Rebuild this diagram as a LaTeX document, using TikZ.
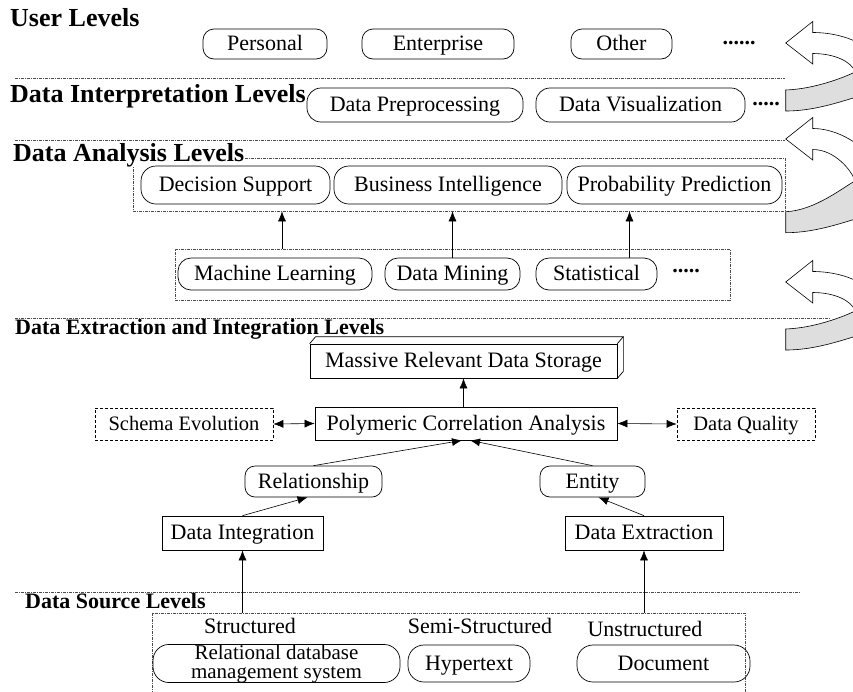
\documentclass[tikz,border=0pt]{standalone}
\usepackage{fontspec}
\setmainfont{Liberation Serif}
\usetikzlibrary{arrows.meta,calc}
\newcommand{\myUturn}[3]{% #1 tip y, #2 turn y, #3 gray top y
  \path[uturnlow] (785.7,#3) .. controls (815,#3-1) and (845,#2+5) .. (855,#2) -- (880,#2)
     -- (880,#3) .. controls (850,#3+8) and (820,#3+21) .. (785.7,#3+21) -- cycle;
  \path[uturnup] (785.7,#1) -- (812.7,#1-21.5) -- (812.7,#1-10.5)
     .. controls (845,#1-10.5) and (880,#2-25) .. (880,#2) -- (855,#2)
     .. controls (852,#2-10) and (835,#1+10.5) .. (812.7,#1+10.5) -- (812.7,#1+21) -- cycle;
}
\begin{document}
\begin{tikzpicture}[x=1pt,y=-1pt,
  txt/.style={font=\fontsize{22}{22}\selectfont, text height=16pt, text depth=3pt},
  rbox/.style={draw, rounded corners=11pt, inner sep=0pt, txt, line width=0.7pt},
  sbox/.style={draw, inner sep=0pt, txt, line width=0.7pt},
  dbox/.style={draw, densely dashed, inner sep=0pt, font=\fontsize{20.5}{22}\selectfont, text height=15pt, text depth=3pt, line width=0.6pt},
  group/.style={draw=black!70, dash pattern=on 3pt off 1pt on 1pt off 1pt, line width=0.6pt, inner sep=0pt},
  sepline/.style={draw=black!70, dash pattern=on 3pt off 1pt on 1pt off 1pt, line width=0.6pt},
  head/.style={font=\bfseries\fontsize{26}{27}\selectfont, anchor=base west, inner sep=0pt},
  subhead/.style={font=\bfseries\fontsize{22}{24}\selectfont, anchor=base west, inner sep=0pt},
  dots/.style={font=\bfseries\fontsize{22}{24}\selectfont, inner sep=0pt},
  plain/.style={inner sep=0pt, txt},
  arr/.style={-{Latex[length=10pt,width=8pt]}, line width=0.6pt},
  darr/.style={{Latex[length=10pt,width=8pt]}-{Latex[length=10pt,width=8pt]}, line width=0.6pt},
  uturnup/.style={draw, fill=white, line width=0.6pt},
  uturnlow/.style={draw, fill=black!13, line width=0.6pt},
]
\useasboundingbox (0,0) rectangle (853,691);
\fill[white] (0,0) rectangle (853,691);
\clip (0,0) rectangle (853,691);

% separator lines
\draw[sepline] (15,78) -- (785,78);
\draw[sepline] (15,140) -- (785,140);
\draw[sepline] (15,318) -- (830,318);
\draw[sepline] (15,592) -- (800,592);

% User levels
\node[head] (hUser) at (10,26) {User Levels};
\node[rbox, minimum width=124pt, minimum height=30pt] (personal) at (265,44) {Personal};
\node[rbox, minimum width=152pt, minimum height=30pt] (enterprise) at (438,44) {Enterprise};
\node[rbox, minimum width=101pt, minimum height=30pt] (other) at (621.5,44) {Other};
\node[dots] (dotsA) at (739,43) {......};

% Data interpretation
\node[head] (hInterp) at (10,102) {Data Interpretation Levels};
\node[rbox, rounded corners=14pt, minimum width=216pt, minimum height=34pt] (dpre) at (415,105) {Data Preprocessing};
\node[rbox, rounded corners=14pt, minimum width=209pt, minimum height=34pt] (dvis) at (640.5,105) {Data Visualization};
\node[dots] (dotsB) at (766,104) {.....};

% Data analysis
\node[group, minimum width=652pt, minimum height=53pt] (upbox) at (459,184.5) {};
\node[head, fill=white, inner xsep=1pt] (hAnal) at (12,161) {Data Analysis Levels};
\node[rbox, rounded corners=15pt, minimum width=189pt, minimum height=38pt] (dsup) at (235.5,185) {Decision Support};
\node[rbox, rounded corners=15pt, minimum width=228pt, minimum height=38pt] (bint) at (448,185) {Business Intelligence};
\node[rbox, rounded corners=15pt, minimum width=215pt, minimum height=38pt] (ppred) at (674.5,185) {Probability Prediction};

\node[group, minimum width=555pt, minimum height=51pt] (lowbox) at (452.5,274.5) {};
\node[rbox, rounded corners=13pt, minimum width=194pt, minimum height=32pt] (mlearn) at (275,274) {Machine Learning};
\node[rbox, rounded corners=13pt, minimum width=135pt, minimum height=32pt] (dmin) at (452.5,274) {Data Mining};
\node[rbox, rounded corners=13pt, minimum width=121pt, minimum height=32pt] (stat) at (596.5,274) {Statistical};
\node[dots] (dotsC) at (686,271) {.....};

\draw[arr] ([xshift=7pt]lowbox.north -| mlearn.north) -- ([xshift=7pt]upbox.south -| mlearn.north);
\draw[arr] (dmin.north) -- (dmin.north |- upbox.south);
\draw[arr] ([xshift=33pt]stat.north) -- ([xshift=33pt]stat.north |- upbox.south);

% Data extraction and integration
\node[subhead] (hExtr) at (15,334) {Data Extraction and Integration Levels};
\node[sbox, minimum width=307pt, minimum height=34pt] (mass) at (463.5,361) {Massive Relevant Data Storage};
\draw[line width=0.7pt] (mass.north west) -- ++(6,-7) -- ([shift={(6,-7)}]mass.north east) -- (mass.north east);
\draw[line width=0.7pt] ([shift={(6,-7)}]mass.north east) -- ([shift={(6,-7)}]mass.south east) -- (mass.south east);

\node[sbox, minimum width=302pt, minimum height=33pt] (poly) at (466,423.5) {Polymeric Correlation Analysis};
\node[dbox, minimum width=178pt, minimum height=32pt] (schema) at (184,424) {Schema Evolution};
\node[dbox, minimum width=138pt, minimum height=32pt] (dqual) at (746,424) {Data Quality};
\draw[darr] (schema.east) -- (poly.west);
\draw[darr] (poly.east) -- (dqual.west);
\draw[arr] (poly.north -| mass.south) -- (mass.south);

\node[rbox, rounded corners=10pt, minimum width=137pt, minimum height=31pt] (rel) at (313.5,481.5) {Relationship};
\node[rbox, rounded corners=10pt, minimum width=105pt, minimum height=31pt] (ent) at (592.5,481.5) {Entity};
\draw[arr] (rel.north) -- ([xshift=-4pt]poly.south);
\draw[arr] (ent.north) -- ([xshift=4pt]poly.south);

\node[sbox, minimum width=161pt, minimum height=34pt] (dint) at (242.5,533) {Data Integration};
\node[sbox, minimum width=158pt, minimum height=34pt] (dext) at (644,533) {Data Extraction};
\draw[arr] (dint.north) -- ([xshift=-6pt]rel.south);
\draw[arr] (dext.north) -- ([xshift=6pt]ent.south);

% Data source
\node[group, minimum width=593pt, minimum height=110pt] (srcbox) at (448.5,668) {};
\node[subhead] (hSrc) at (25,608) {Data Source Levels};
\draw[arr] (srcbox.north -| dint.south) -- (dint.south);
\draw[arr] (srcbox.north -| dext.south) -- (dext.south);

\node[plain] (lstruct) at (250,627) {Structured};
\node[plain] (lsemi) at (480,627) {Semi-Structured};
\node[plain] (lunstr) at (645,630) {Unstructured};
\node[draw, rounded corners=16pt, inner sep=0pt, line width=0.7pt, minimum width=247pt, minimum height=37pt, align=center, font=\fontsize{21}{19}\selectfont] (rdbms) at (276.5,663.5) {Relational database\\management system};
\node[rbox, rounded corners=16pt, minimum width=122pt, minimum height=37pt] (hyper) at (469,663.5) {Hypertext};
\node[rbox, rounded corners=16pt, minimum width=173pt, minimum height=37pt] (docu) at (663.5,663.5) {Document};

% curved arrows at right
\myUturn{43}{72}{90}
\myUturn{139}{181}{211.7}
\myUturn{282}{311}{329}
\end{tikzpicture}
\end{document}
